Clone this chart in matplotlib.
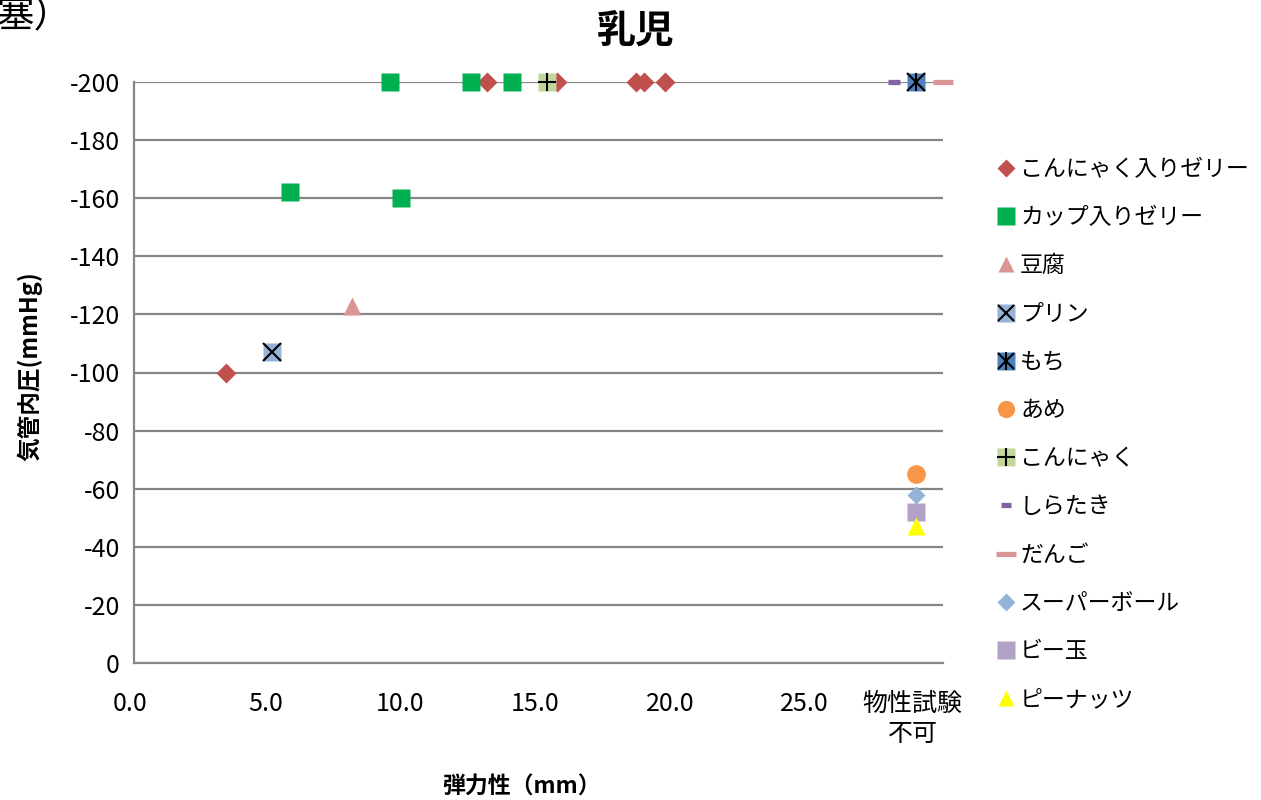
import matplotlib
matplotlib.use("Agg")
import matplotlib.pyplot as plt
from matplotlib.transforms import ScaledTranslation

plt.rcParams['font.family'] = ['Noto Sans CJK JP', 'DejaVu Sans']

# elasticity (mm) / intratracheal pressure (mmHg) per food
konjac_jelly_x = [3.4, 13.1, 15.7, 18.6, 18.9, 19.7]
konjac_jelly_y = [-100, -200, -200, -200, -200, -200]
cup_jelly_x = [5.8, 9.9, 9.5, 12.5, 14.0]
cup_jelly_y = [-162, -160, -200, -200, -200]
tofu_x = [8.1]
tofu_y = [-123]
pudding_x = [5.1]
pudding_y = [-107]
mochi_x = [29.0]
mochi_y = [-200]
candy_x = [29.0]
candy_y = [-65]
konjac_x = [15.3]
konjac_y = [-200]
shirataki_x = [28.2]
shirataki_y = [-200]
dango_x = [30.0]
dango_y = [-200]
superball_x = [29.0]
superball_y = [-58]
marble_x = [29.0]
marble_y = [-52]
peanut_x = [29.0]
peanut_y = [-47]

x_ticks = [0, 5, 10, 15, 20, 25, 29]
x_tick_labels = ['0.0', '5.0', '10.0', '15.0', '20.0', '25.0', '物性試験\n不可']
y_ticks = list(range(0, -201, -20))
y_tick_labels = [str(v) for v in y_ticks]

W, H = 1261, 800
fig = plt.figure(figsize=(W / 100, H / 100), dpi=100)
ax = fig.add_axes([134 / W, 1 - 663 / H, (943 - 134) / W, (663 - 82) / H])

ax.set_xlim(0, 30)
ax.set_ylim(0, -200)

grid_c = '#868686'
ax.set_yticks(y_ticks)
ax.set_yticklabels(y_tick_labels)
ax.set_xticks(x_ticks)
ax.set_xticklabels(x_tick_labels, linespacing=1.2)
ax.yaxis.grid(True, color=grid_c, lw=1.6)
ax.set_axisbelow(True)
for s in ['top', 'right']:
    ax.spines[s].set_visible(False)
for s in ['left', 'bottom']:
    ax.spines[s].set_color(grid_c)
    ax.spines[s].set_linewidth(1.6)
ax.tick_params(axis='both', length=0, labelsize=18)
ax.tick_params(axis='y', pad=10)
ax.tick_params(axis='x', pad=20)
shift = ScaledTranslation(-3.5 / 100, 0, fig.dpi_scale_trans)
for lab in ax.get_xticklabels():
    lab.set_transform(lab.get_transform() + shift)

handles = []

def plot_series(x, y, label, extra=None, **kw):
    base = dict(ls='none', zorder=3, clip_on=False)
    base.update(kw)
    h = ax.plot(x, y, **base)[0]
    parts = [h]
    if extra:
        for ek in extra:
            eb = dict(ls='none', zorder=4, clip_on=False)
            eb.update(ek)
            parts.append(ax.plot(x, y, **eb)[0])
    handles.append((tuple(parts) if len(parts) > 1 else h, label))

plot_series(konjac_jelly_x, konjac_jelly_y, 'こんにゃく入りゼリー',
            marker='D', ms=10, mfc='#C0504D', mec='none')
plot_series(cup_jelly_x, cup_jelly_y, 'カップ入りゼリー',
            marker='s', ms=13.5, mfc='#00B050', mec='none')
plot_series(tofu_x, tofu_y, '豆腐',
            marker='^', ms=13, mfc='#D99694', mec='none')
plot_series(pudding_x, pudding_y, 'プリン',
            extra=[dict(marker='x', ms=13, mec='black', mew=1.5)],
            marker='s', ms=13.5, mfc='#95B3D7', mec='none')
plot_series(mochi_x, mochi_y, 'もち',
            extra=[dict(marker='x', ms=13, mec='black', mew=1.5),
                   dict(marker='|', ms=13.5, mec='black', mew=1.5)],
            marker='s', ms=13.5, mfc='#4F81BD', mec='none')
plot_series(candy_x, candy_y, 'あめ',
            marker='o', ms=13.5, mfc='#F79646', mec='none')
plot_series(konjac_x, konjac_y, 'こんにゃく',
            extra=[dict(marker='+', ms=13.5, mec='black', mew=1.5)],
            marker='s', ms=13.5, mfc='#C3D69B', mec='none')
plot_series(shirataki_x, shirataki_y, 'しらたき',
            marker='_', ms=8.4, mec='#8064A2', mew=3.8)
plot_series(dango_x, dango_y, 'だんご',
            marker='_', ms=15, mec='#D99694', mew=3.8)
plot_series(superball_x, superball_y, 'スーパーボール',
            marker='D', ms=9.5, mfc='#95B3D7', mec='none')
plot_series(marble_x, marble_y, 'ビー玉',
            marker='s', ms=13.5, mfc='#B3A2C7', mec='none')
plot_series(peanut_x, peanut_y, 'ピーナッツ',
            marker='^', ms=13, mfc='#FFFF00', mec='none')

fig.legend([h for h, _ in handles], [l for _, l in handles],
           loc='upper left', bbox_to_anchor=(996 / W, 1 - 158 / H),
           frameon=False, fontsize=16.5, markerscale=0.92,
           handlelength=0.9, handletextpad=0.15, labelspacing=1.1,
           borderpad=0, borderaxespad=0)

ax.set_xlabel('弾力性（mm）', fontsize=16.5, fontweight='bold')
ax.xaxis.set_label_coords((521 - 134) / 809, (663 - 776) / 581)
ax.set_ylabel('気管内圧(mmHg)', fontsize=17, fontweight='bold')
ax.yaxis.label.set_va('center')
ax.yaxis.set_label_coords((30 - 134) / 809, (663 - 366) / 581)

fig.text(636 / W, 1 - 31 / H, '乳児', fontsize=28, fontweight='bold',
         ha='center', va='center')
fig.text(-3 / W, 1 - 16 / H, '塞）', fontsize=27, ha='left', va='center')

fig.savefig('out.png', dpi=100)
